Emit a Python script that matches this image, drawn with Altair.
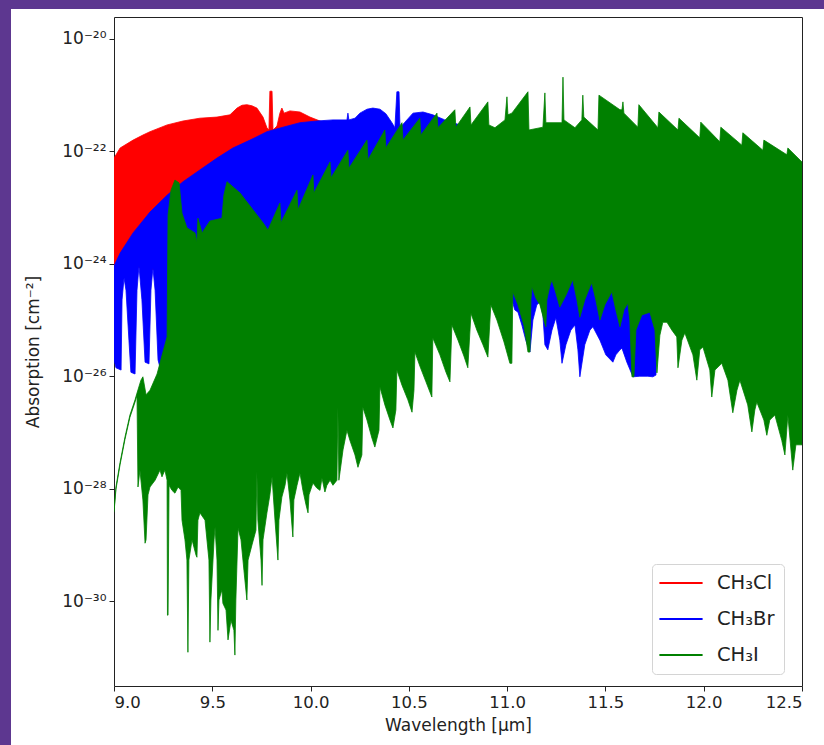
import altair as alt
import pandas as pd

SPECIES = ["CH₃Cl", "CH₃Br", "CH₃I"]
COLORS = ["#ff0000", "#0000ff", "#008000"]

X_TICKS = [9.0, 9.5, 10.0, 10.5, 11.0, 11.5, 12.0, 12.5]
Y_EXPONENTS = [-30, -28, -26, -24, -22, -20]
Y_MIN_EXP, Y_MAX_EXP = -31.51, -19.61

# Envelopes of each line forest: wavelength [µm] and log10 of absorption [cm^-2].
# Upper edge ("top") and lower edge ("bot"), each listed by increasing wavelength.

# CH3Cl
cl_top_wl = [9.000, 9.031, 9.097, 9.147, 9.183, 9.270, 9.351, 9.437, 9.524, 9.590,
             9.626, 9.651, 9.676, 9.702, 9.727, 9.758, 9.778, 9.788, 9.793, 9.804,
             9.809, 9.829, 9.844, 9.854, 9.865, 9.895, 9.946, 9.997, 10.048, 10.099]
cl_top = [-22.12, -21.94, -21.80, -21.71, -21.65, -21.53, -21.46, -21.41, -21.39, -21.35,
          -21.23, -21.18, -21.17, -21.19, -21.23, -21.39, -21.58, -21.62, -20.93, -20.93,
          -21.62, -21.55, -21.32, -21.23, -21.32, -21.28, -21.30, -21.39, -21.46, -21.51]
cl_bot_wl = [9.000, 9.100, 9.200, 9.300, 9.600, 10.000, 10.099]
cl_bot = [-24.09, -24.05, -24.10, -23.90, -23.30, -22.60, -22.50]

# CH3Br
br_top_wl = [9.000, 9.031, 9.097, 9.183, 9.270, 9.351, 9.437, 9.524, 9.605, 9.692,
             9.778, 9.860, 9.946, 10.032, 10.114, 10.185, 10.190, 10.195, 10.226, 10.251,
             10.287, 10.317, 10.353, 10.383, 10.414, 10.429, 10.439, 10.450, 10.455, 10.480,
             10.521, 10.572, 10.622, 10.683, 10.760, 10.861, 11.000, 11.500, 12.000, 12.500]
br_top = [-24.04, -23.81, -23.45, -23.08, -22.78, -22.54, -22.33, -22.12, -21.94, -21.80,
          -21.65, -21.57, -21.49, -21.46, -21.44, -21.44, -21.32, -21.44, -21.41, -21.32,
          -21.25, -21.23, -21.25, -21.33, -21.49, -21.58, -20.94, -20.94, -21.58, -21.48,
          -21.32, -21.30, -21.35, -21.44, -21.53, -21.58, -21.80, -22.00, -22.40, -22.80]
br_bot_wl = [9.000, 9.010, 9.036, 9.041, 9.051, 9.061, 9.076, 9.086, 9.107, 9.117,
             9.127, 9.142, 9.158, 9.178, 9.188, 9.198, 9.209, 9.224, 9.244, 9.280,
             9.500, 10.000, 10.200, 10.400, 10.600, 10.800, 10.900, 10.963, 11.014, 11.024,
             11.039, 11.055, 11.075, 11.095, 11.116, 11.131, 11.151, 11.167, 11.182, 11.192,
             11.207, 11.228, 11.248, 11.268, 11.279, 11.299, 11.324, 11.345, 11.360, 11.370,
             11.395, 11.421, 11.436, 11.472, 11.502, 11.538, 11.553, 11.574, 11.584, 11.609,
             11.640, 11.675, 11.716, 11.741, 11.757, 11.762, 11.828, 11.980, 12.235, 12.500]
br_bot = [-25.71, -25.85, -25.89, -24.64, -24.25, -24.47, -25.36, -25.93, -25.96, -24.47,
          -24.04, -24.64, -25.75, -25.78, -24.47, -24.07, -24.47, -25.71, -25.98, -25.98,
          -25.80, -25.60, -25.40, -25.00, -24.70, -24.55, -24.55, -24.61, -24.56, -24.64,
          -24.82, -24.86, -25.09, -25.36, -25.57, -25.00, -24.73, -24.68, -24.91, -25.44,
          -25.53, -25.18, -24.96, -25.36, -25.77, -25.44, -25.18, -25.09, -25.53, -26.01,
          -25.44, -25.18, -25.12, -25.36, -25.62, -25.75, -25.62, -25.53, -25.50, -25.75,
          -26.01, -26.00, -26.00, -26.01, -25.98, -25.00, -25.00, -25.23, -25.71, -26.42]

# CH3I
i_top_wl = [9.000, 9.010, 9.031, 9.056, 9.081, 9.107, 9.117, 9.137, 9.147, 9.163,
            9.183, 9.219, 9.249, 9.270, 9.275, 9.290, 9.310, 9.331, 9.346, 9.371,
            9.412, 9.422, 9.427, 9.448, 9.488, 9.549, 9.559, 9.575, 9.641, 9.707,
            9.758, 9.783, 9.844, 9.849, 9.931, 9.936, 10.012, 10.017, 10.099, 10.104,
            10.190, 10.195, 10.287, 10.292, 10.378, 10.383, 10.465, 10.470, 10.556, 10.561,
            10.643, 10.648, 10.734, 10.739, 10.811, 10.816, 10.902, 10.907, 10.938, 10.989,
            10.999, 11.004, 11.024, 11.106, 11.111, 11.182, 11.192, 11.197, 11.279, 11.284,
            11.289, 11.345, 11.380, 11.385, 11.390, 11.462, 11.467, 11.574, 11.584, 11.589,
            11.594, 11.665, 11.670, 11.767, 11.772, 11.869, 11.874, 11.980, 11.985, 12.082,
            12.087, 12.194, 12.199, 12.301, 12.306, 12.423, 12.428, 12.500]
i_top = [-28.38, -27.97, -27.53, -27.08, -26.69, -26.42, -26.30, -26.07, -26.01, -26.33,
         -26.25, -25.96, -25.57, -25.30, -23.13, -22.69, -22.51, -22.56, -23.10, -23.36,
         -23.45, -23.61, -23.19, -23.45, -23.24, -23.19, -22.78, -22.54, -22.74, -23.04,
         -23.27, -23.40, -22.92, -23.27, -22.69, -23.04, -22.42, -22.74, -22.19, -22.47,
         -21.98, -22.30, -21.80, -22.15, -21.62, -21.94, -21.49, -21.80, -21.41, -21.71,
         -21.32, -21.58, -21.26, -21.57, -21.21, -21.53, -21.12, -21.53, -21.58, -21.44,
         -21.03, -21.35, -21.32, -20.94, -21.62, -21.57, -20.96, -21.49, -21.49, -20.68,
         -21.44, -21.58, -21.44, -21.00, -21.39, -21.62, -21.00, -21.26, -21.26, -21.12,
         -21.32, -21.57, -21.17, -21.58, -21.30, -21.62, -21.41, -21.76, -21.48, -21.83,
         -21.57, -21.89, -21.67, -21.98, -21.80, -22.06, -21.94, -22.19]
i_bot_wl = [9.000, 9.010, 9.031, 9.056, 9.081, 9.107, 9.117, 9.122, 9.132, 9.147,
            9.158, 9.163, 9.173, 9.183, 9.209, 9.234, 9.244, 9.259, 9.270, 9.272,
            9.275, 9.280, 9.295, 9.310, 9.326, 9.341, 9.346, 9.361, 9.371, 9.376,
            9.381, 9.397, 9.417, 9.422, 9.427, 9.437, 9.463, 9.483, 9.488, 9.493,
            9.509, 9.514, 9.524, 9.529, 9.534, 9.549, 9.554, 9.570, 9.580, 9.595,
            9.610, 9.615, 9.620, 9.631, 9.646, 9.661, 9.676, 9.682, 9.702, 9.722,
            9.727, 9.732, 9.748, 9.753, 9.758, 9.778, 9.793, 9.804, 9.819, 9.834,
            9.839, 9.854, 9.870, 9.880, 9.895, 9.910, 9.915, 9.931, 9.946, 9.961,
            9.977, 9.987, 9.992, 10.012, 10.032, 10.048, 10.058, 10.073, 10.083, 10.099,
            10.114, 10.134, 10.139, 10.144, 10.150, 10.165, 10.185, 10.200, 10.226, 10.241,
            10.261, 10.266, 10.287, 10.312, 10.327, 10.348, 10.353, 10.378, 10.404, 10.419,
            10.434, 10.439, 10.465, 10.495, 10.516, 10.526, 10.531, 10.556, 10.587, 10.617,
            10.622, 10.658, 10.689, 10.709, 10.719, 10.750, 10.780, 10.800, 10.816, 10.846,
            10.877, 10.902, 10.917, 10.948, 10.984, 11.014, 11.024, 11.029, 11.055, 11.085,
            11.106, 11.116, 11.121, 11.126, 11.146, 11.167, 11.187, 11.197, 11.202, 11.218,
            11.228, 11.248, 11.268, 11.299, 11.329, 11.334, 11.355, 11.370, 11.395, 11.421,
            11.431, 11.451, 11.472, 11.497, 11.523, 11.533, 11.553, 11.574, 11.594, 11.614,
            11.624, 11.635, 11.645, 11.655, 11.685, 11.726, 11.752, 11.762, 11.777, 11.792,
            11.813, 11.838, 11.863, 11.869, 11.889, 11.904, 11.945, 11.965, 11.980, 11.996,
            12.031, 12.041, 12.057, 12.092, 12.123, 12.148, 12.169, 12.184, 12.224, 12.245,
            12.260, 12.270, 12.306, 12.321, 12.336, 12.362, 12.397, 12.413, 12.428, 12.453,
            12.469, 12.500]
i_bot = [-28.42, -28.01, -27.57, -27.12, -26.73, -26.46, -26.34, -27.97, -27.67, -28.20,
         -28.97, -28.91, -28.11, -27.97, -27.85, -27.67, -27.79, -27.67, -27.85, -30.25,
         -30.25, -27.94, -28.03, -28.08, -27.97, -28.03, -28.56, -28.91, -29.27, -30.91,
         -29.27, -28.91, -29.18, -29.22, -28.56, -28.43, -28.56, -29.27, -30.73, -29.98,
         -28.91, -28.68, -29.27, -30.52, -29.98, -29.80, -30.04, -30.16, -30.69, -30.34,
         -30.52, -30.96, -29.98, -28.70, -28.91, -29.45, -29.98, -29.27, -29.00, -28.74,
         -27.70, -28.56, -29.27, -29.72, -28.91, -28.43, -28.11, -27.79, -28.56, -29.27,
         -28.56, -28.15, -27.94, -27.72, -28.20, -28.86, -28.20, -27.94, -27.72, -28.03,
         -28.29, -28.43, -28.11, -27.90, -27.99, -28.03, -27.81, -28.06, -27.94, -27.85,
         -27.94, -27.85, -26.55, -27.85, -27.70, -27.31, -26.96, -27.14, -27.40, -27.62,
         -27.40, -26.55, -26.78, -27.10, -27.26, -26.96, -26.19, -26.51, -26.78, -26.92,
         -26.60, -25.89, -26.16, -26.42, -26.64, -26.25, -25.57, -25.82, -26.10, -26.37,
         -25.32, -25.62, -25.93, -26.10, -25.09, -25.36, -25.64, -25.85, -24.88, -25.18,
         -25.44, -25.66, -24.73, -25.00, -25.39, -25.77, -25.77, -24.50, -24.73, -25.09,
         -25.57, -25.57, -24.64, -24.41, -24.61, -24.73, -25.00, -25.12, -24.64, -24.38,
         -24.29, -24.52, -24.77, -24.56, -24.32, -24.29, -24.64, -24.95, -24.64, -24.41,
         -24.34, -24.64, -25.00, -24.73, -24.56, -24.50, -24.82, -25.12, -24.82, -24.70,
         -25.00, -26.01, -26.01, -25.18, -24.91, -24.86, -25.18, -25.94, -25.27, -25.04,
         -25.04, -25.18, -25.30, -25.85, -25.36, -25.23, -25.62, -26.07, -25.53, -25.48,
         -25.89, -26.37, -25.89, -25.77, -26.07, -26.65, -26.25, -26.07, -26.51, -26.99,
         -26.60, -26.46, -26.78, -27.05, -26.78, -26.69, -27.14, -27.40, -26.69, -27.67,
         -27.22, -27.22]


def band(name, top_wl, top, bot_wl, bot):
    """Closed outline of one species: upper edge left to right, lower edge back."""
    wl = list(top_wl) + list(reversed(bot_wl))
    lg = list(top) + list(reversed(bot))
    return pd.DataFrame({
        "species": name,
        "wl": wl,
        "absorption": [10.0 ** v for v in lg],
        "seq": list(range(len(wl))),
    })


bands = [
    band(SPECIES[0], cl_top_wl, cl_top, cl_bot_wl, cl_bot),
    band(SPECIES[1], br_top_wl, br_top, br_bot_wl, br_bot),
    band(SPECIES[2], i_top_wl, i_top, i_bot_wl, i_bot),
]

SUP = {"-": "⁻", "0": "⁰", "1": "¹", "2": "²", "3": "³", "4": "⁴",
       "5": "⁵", "6": "⁶", "7": "⁷", "8": "⁸", "9": "⁹"}


def power_label(e):
    return "10" + "".join(SUP[c] for c in str(e))


label_expr = ""
for e in Y_EXPONENTS[:-1]:
    label_expr += f"datum.value < {10.0 ** (e + 1):g} ? '{power_label(e)}' : "
label_expr += f"'{power_label(Y_EXPONENTS[-1])}'"

FONT = "DejaVu Sans"
INK = "#222222"

x_enc = alt.X(
    "wl:Q",
    scale=alt.Scale(domain=[9.0, 12.5], nice=False, zero=False),
    axis=alt.Axis(values=X_TICKS, format=".1f", title="Wavelength [μm]",
                  labelPadding=3, titlePadding=7),
)
y_enc = alt.Y(
    "absorption:Q",
    scale=alt.Scale(type="log", domain=[10.0 ** Y_MIN_EXP, 10.0 ** Y_MAX_EXP], nice=False),
    axis=alt.Axis(values=[10.0 ** e for e in Y_EXPONENTS], labelExpr=label_expr,
                  title="Absorption [cm⁻²]", labelPadding=3, titlePadding=19,
                  labelFontSize=17),
)
legend = alt.Legend(
    orient="none", legendX=538, legendY=547,
    symbolType="M-2.4,0H2.4", symbolSize=324, symbolStrokeWidth=1.8,
    symbolOffset=10, labelOffset=26,
    labelFont=FONT, labelFontSize=19.5, labelColor=INK,
    padding=9, rowPadding=16, strokeColor="#d4d4d4", fillColor="white",
    cornerRadius=4,
)
color_scale = alt.Scale(domain=SPECIES, range=COLORS)
stroke_enc = alt.Stroke("species:N", scale=color_scale, title=None, legend=legend)
fill_enc = alt.Fill("species:N", scale=color_scale, title=None, legend=legend)

layers = []
for df in bands:
    layers.append(
        alt.Chart(df)
        .mark_line(strokeWidth=0.8, clip=True)
        .encode(x=x_enc, y=y_enc, order="seq:Q", stroke=stroke_enc, fill=fill_enc)
    )

# Purple slide frame showing at the top and left of the figure
frame_src = alt.Data(values=[{"side": "top"}])
top_strip = alt.Chart(frame_src).mark_rect(color="#5d3790").encode(
    x=alt.value(-114), x2=alt.value(710), y=alt.value(-17), y2=alt.value(-8)
)
left_strip = alt.Chart(frame_src).mark_rect(color="#5d3790").encode(
    x=alt.value(-114), x2=alt.value(-103), y=alt.value(-17), y2=alt.value(728)
)

chart = (
    alt.layer(*layers, top_strip, left_strip)
    .properties(
        width=688, height=669,
        autosize=alt.AutoSizeParams(type="none"),
        padding={"left": 114, "top": 17, "right": 22, "bottom": 59},
        background="white",
    )
    .configure_view(stroke=INK, strokeWidth=1)
    .configure_axis(
        grid=False, domain=False, tickColor=INK, tickSize=5,
        labelFont=FONT, labelFontSize=16.5, labelColor=INK,
        titleFont=FONT, titleFontSize=17, titleFontWeight="normal", titleColor=INK,
    )
)

chart.save("out.html", embed_options={"renderer": "svg", "actions": False})
